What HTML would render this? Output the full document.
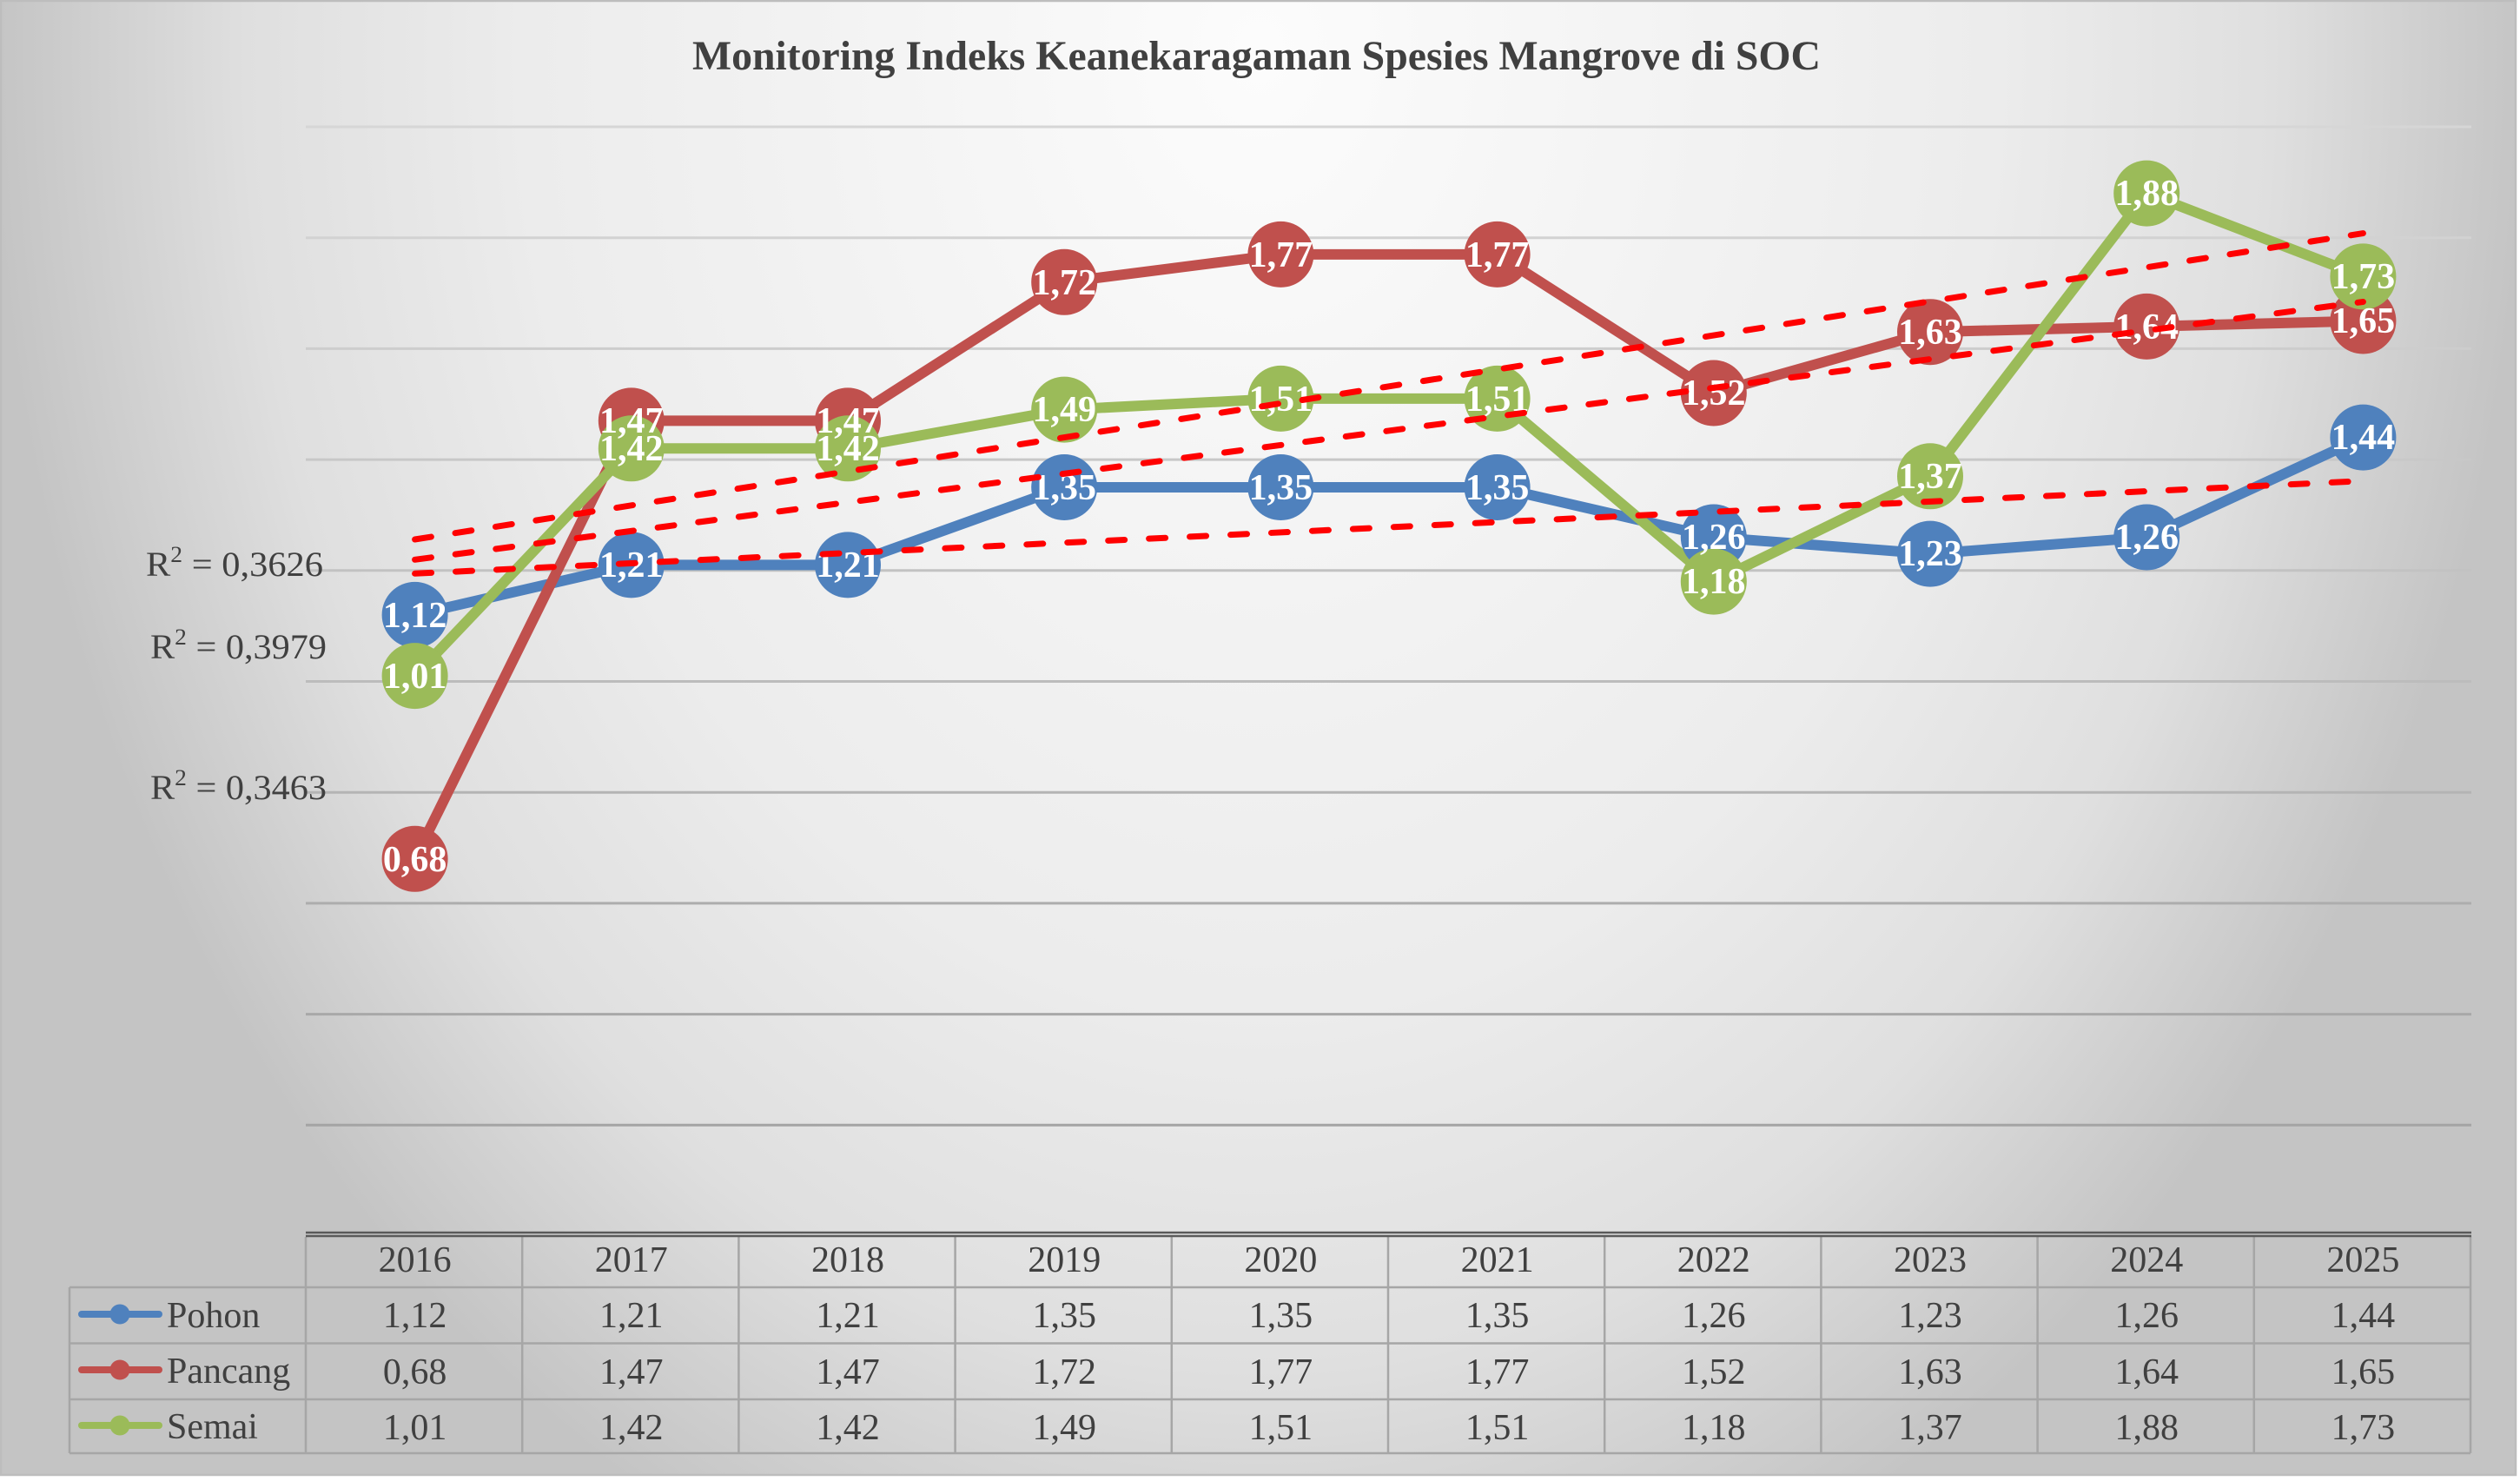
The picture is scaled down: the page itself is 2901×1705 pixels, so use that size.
<!DOCTYPE html>
<html>
<head>
<meta charset="utf-8">
<style>
html,body{margin:0;padding:0;background:#ffffff;}
svg{display:block;}
text{font-family:"Liberation Serif","DejaVu Serif",serif;}
</style>
</head>
<body>
<svg width="2901" height="1705" viewBox="0 0 2901 1705" xmlns="http://www.w3.org/2000/svg">
<defs>
<radialGradient id="bg" gradientUnits="userSpaceOnUse" cx="1450" cy="60" r="1460" gradientTransform="translate(1450,60) scale(1,1.3) translate(-1450,-60)">
<stop offset="0" stop-color="#fcfcfc"/>
<stop offset="0.58" stop-color="#ececec"/>
<stop offset="0.8" stop-color="#dfdfdf"/>
<stop offset="1" stop-color="#c4c4c4"/>
</radialGradient>
</defs>
<rect x="0" y="0" width="2901" height="1705" fill="#ffffff"/>
<rect x="1" y="1" width="2895" height="1697" fill="url(#bg)" stroke="#bdbdbd" stroke-width="2.5"/>

<!-- Title -->
<text x="797" y="80" font-size="48" font-weight="bold" fill="#404040" textLength="1299" lengthAdjust="spacingAndGlyphs">Monitoring Indeks Keanekaragaman Spesies Mangrove di SOC</text>

<!-- Gridlines -->
<g stroke-width="3">
<line x1="352" y1="146" x2="2845" y2="146" stroke="#d6d6d6"/>
<line x1="352" y1="273.7" x2="2845" y2="273.7" stroke="#d2d2d2"/>
<line x1="352" y1="401.4" x2="2845" y2="401.4" stroke="#cdcdcd"/>
<line x1="352" y1="529.1" x2="2845" y2="529.1" stroke="#c8c8c8"/>
<line x1="352" y1="656.8" x2="2845" y2="656.8" stroke="#c2c2c2"/>
<line x1="352" y1="784.5" x2="2845" y2="784.5" stroke="#bcbcbc"/>
<line x1="352" y1="912.2" x2="2845" y2="912.2" stroke="#b4b4b4"/>
<line x1="352" y1="1039.9" x2="2845" y2="1039.9" stroke="#adadad"/>
<line x1="352" y1="1167.6" x2="2845" y2="1167.6" stroke="#a8a8a8"/>
<line x1="352" y1="1295.3" x2="2845" y2="1295.3" stroke="#a4a4a4"/>
</g>

<!-- R2 labels -->
<g font-size="40" fill="#404040">
<text x="168" y="663" textLength="204" lengthAdjust="spacingAndGlyphs">R<tspan font-size="26" dy="-16">2</tspan><tspan dy="16"> = 0,3626</tspan></text>
<text x="173" y="758" textLength="203" lengthAdjust="spacingAndGlyphs">R<tspan font-size="26" dy="-16">2</tspan><tspan dy="16"> = 0,3979</tspan></text>
<text x="173" y="920" textLength="203" lengthAdjust="spacingAndGlyphs">R<tspan font-size="26" dy="-16">2</tspan><tspan dy="16"> = 0,3463</tspan></text>
</g>

<!-- Series lines -->
<g fill="none" stroke-width="12" stroke-linejoin="round" stroke-linecap="round">
<polyline stroke="#4F81BD" points="477.6,707.9 726.8,650.4 976,650.4 1225.2,561 1474.4,561 1723.6,561 1972.8,618.5 2222,637.6 2471.2,618.5 2720.4,503.6"/>
<polyline stroke="#C0504D" points="477.6,988.8 726.8,484.4 976,484.4 1225.2,324.8 1474.4,292.9 1723.6,292.9 1972.8,452.5 2222,382.2 2471.2,375.9 2720.4,369.5"/>
<polyline stroke="#9BBB59" points="477.6,778.1 726.8,516.3 976,516.3 1225.2,471.6 1474.4,458.9 1723.6,458.9 1972.8,669.6 2222,548.3 2471.2,222.6 2720.4,318.4"/>
</g>

<!-- Markers -->
<g fill="#4F81BD">
<circle cx="477.6" cy="707.9" r="38"/><circle cx="726.8" cy="650.4" r="38"/><circle cx="976" cy="650.4" r="38"/><circle cx="1225.2" cy="561" r="38"/><circle cx="1474.4" cy="561" r="38"/><circle cx="1723.6" cy="561" r="38"/><circle cx="1972.8" cy="618.5" r="38"/><circle cx="2222" cy="637.6" r="38"/><circle cx="2471.2" cy="618.5" r="38"/><circle cx="2720.4" cy="503.6" r="38"/>
</g>
<g fill="#C0504D">
<circle cx="477.6" cy="988.8" r="38"/><circle cx="726.8" cy="484.4" r="38"/><circle cx="976" cy="484.4" r="38"/><circle cx="1225.2" cy="324.8" r="38"/><circle cx="1474.4" cy="292.9" r="38"/><circle cx="1723.6" cy="292.9" r="38"/><circle cx="1972.8" cy="452.5" r="38"/><circle cx="2222" cy="382.2" r="38"/><circle cx="2471.2" cy="375.9" r="38"/><circle cx="2720.4" cy="369.5" r="38"/>
</g>
<g fill="#9BBB59">
<circle cx="477.6" cy="778.1" r="38"/><circle cx="726.8" cy="516.3" r="38"/><circle cx="976" cy="516.3" r="38"/><circle cx="1225.2" cy="471.6" r="38"/><circle cx="1474.4" cy="458.9" r="38"/><circle cx="1723.6" cy="458.9" r="38"/><circle cx="1972.8" cy="669.6" r="38"/><circle cx="2222" cy="548.3" r="38"/><circle cx="2471.2" cy="222.6" r="38"/><circle cx="2720.4" cy="318.4" r="38"/>
</g>

<!-- Data labels -->
<g font-size="42" font-weight="bold" fill="#ffffff" text-anchor="middle">
<text x="477.6" y="722">1,12</text><text x="726.8" y="664">1,21</text><text x="976" y="664">1,21</text><text x="1225.2" y="575">1,35</text><text x="1474.4" y="575">1,35</text><text x="1723.6" y="575">1,35</text><text x="1972.8" y="632">1,26</text><text x="2222" y="651">1,23</text><text x="2471.2" y="632">1,26</text><text x="2720.4" y="517">1,44</text>
<text x="477.6" y="1003">0,68</text><text x="726.8" y="498">1,47</text><text x="976" y="498">1,47</text><text x="1225.2" y="339">1,72</text><text x="1474.4" y="307">1,77</text><text x="1723.6" y="307">1,77</text><text x="1972.8" y="466">1,52</text><text x="2222" y="396">1,63</text><text x="2471.2" y="390">1,64</text><text x="2720.4" y="383">1,65</text>
<text x="477.6" y="792">1,01</text><text x="726.8" y="530">1,42</text><text x="976" y="530">1,42</text><text x="1225.2" y="485">1,49</text><text x="1474.4" y="473">1,51</text><text x="1723.6" y="473">1,51</text><text x="1972.8" y="683">1,18</text><text x="2222" y="562">1,37</text><text x="2471.2" y="236">1,88</text><text x="2720.4" y="332">1,73</text>
</g>

<!-- Trendlines -->
<g stroke="#FF0000" stroke-width="7" stroke-dasharray="19 28" stroke-linecap="round" fill="none">
<line x1="477.6" y1="660.3" x2="2720.4" y2="553.7"/>
<line x1="477.6" y1="621" x2="2720.4" y2="268.6"/>
<line x1="477.6" y1="644.3" x2="2720.4" y2="347.5"/>
</g>

<!-- Data table -->
<g stroke="#a6a6a6" stroke-width="2.5" fill="none">
<line x1="352" y1="1424" x2="352" y2="1673"/>
<line x1="601.2" y1="1424" x2="601.2" y2="1673"/>
<line x1="850.4" y1="1424" x2="850.4" y2="1673"/>
<line x1="1099.6" y1="1424" x2="1099.6" y2="1673"/>
<line x1="1348.8" y1="1424" x2="1348.8" y2="1673"/>
<line x1="1598" y1="1424" x2="1598" y2="1673"/>
<line x1="1847.2" y1="1424" x2="1847.2" y2="1673"/>
<line x1="2096.4" y1="1424" x2="2096.4" y2="1673"/>
<line x1="2345.6" y1="1424" x2="2345.6" y2="1673"/>
<line x1="2594.8" y1="1424" x2="2594.8" y2="1673"/>
<line x1="2844" y1="1424" x2="2844" y2="1673"/>
<line x1="80" y1="1482" x2="80" y2="1673"/>
<line x1="80" y1="1482" x2="2844" y2="1482"/>
<line x1="80" y1="1546.5" x2="2844" y2="1546.5"/>
<line x1="80" y1="1611" x2="2844" y2="1611"/>
<line x1="80" y1="1673" x2="2844" y2="1673"/>
</g>
<g stroke="#5a5a5a" stroke-width="2.5">
<line x1="352" y1="1419" x2="2845" y2="1419"/>
<line x1="352" y1="1423" x2="2845" y2="1423"/>
</g>

<g font-size="42" fill="#404040" text-anchor="middle">
<text x="477.6" y="1464">2016</text><text x="726.8" y="1464">2017</text><text x="976" y="1464">2018</text><text x="1225.2" y="1464">2019</text><text x="1474.4" y="1464">2020</text><text x="1723.6" y="1464">2021</text><text x="1972.8" y="1464">2022</text><text x="2222" y="1464">2023</text><text x="2471.2" y="1464">2024</text><text x="2720.4" y="1464">2025</text>
<text x="477.6" y="1528">1,12</text><text x="726.8" y="1528">1,21</text><text x="976" y="1528">1,21</text><text x="1225.2" y="1528">1,35</text><text x="1474.4" y="1528">1,35</text><text x="1723.6" y="1528">1,35</text><text x="1972.8" y="1528">1,26</text><text x="2222" y="1528">1,23</text><text x="2471.2" y="1528">1,26</text><text x="2720.4" y="1528">1,44</text>
<text x="477.6" y="1593">0,68</text><text x="726.8" y="1593">1,47</text><text x="976" y="1593">1,47</text><text x="1225.2" y="1593">1,72</text><text x="1474.4" y="1593">1,77</text><text x="1723.6" y="1593">1,77</text><text x="1972.8" y="1593">1,52</text><text x="2222" y="1593">1,63</text><text x="2471.2" y="1593">1,64</text><text x="2720.4" y="1593">1,65</text>
<text x="477.6" y="1657">1,01</text><text x="726.8" y="1657">1,42</text><text x="976" y="1657">1,42</text><text x="1225.2" y="1657">1,49</text><text x="1474.4" y="1657">1,51</text><text x="1723.6" y="1657">1,51</text><text x="1972.8" y="1657">1,18</text><text x="2222" y="1657">1,37</text><text x="2471.2" y="1657">1,88</text><text x="2720.4" y="1657">1,73</text>
</g>

<!-- Legend keys -->
<g stroke-width="8" stroke-linecap="round">
<line x1="94" y1="1513" x2="183" y2="1513" stroke="#4F81BD"/>
<line x1="94" y1="1577" x2="183" y2="1577" stroke="#C0504D"/>
<line x1="94" y1="1641" x2="183" y2="1641" stroke="#9BBB59"/>
</g>
<circle cx="138" cy="1513" r="11.5" fill="#4F81BD"/>
<circle cx="138" cy="1577" r="11.5" fill="#C0504D"/>
<circle cx="138" cy="1641" r="11.5" fill="#9BBB59"/>
<g font-size="42" fill="#404040">
<text x="192" y="1528">Pohon</text>
<text x="192" y="1592">Pancang</text>
<text x="192" y="1656">Semai</text>
</g>
</svg>
</body>
</html>
